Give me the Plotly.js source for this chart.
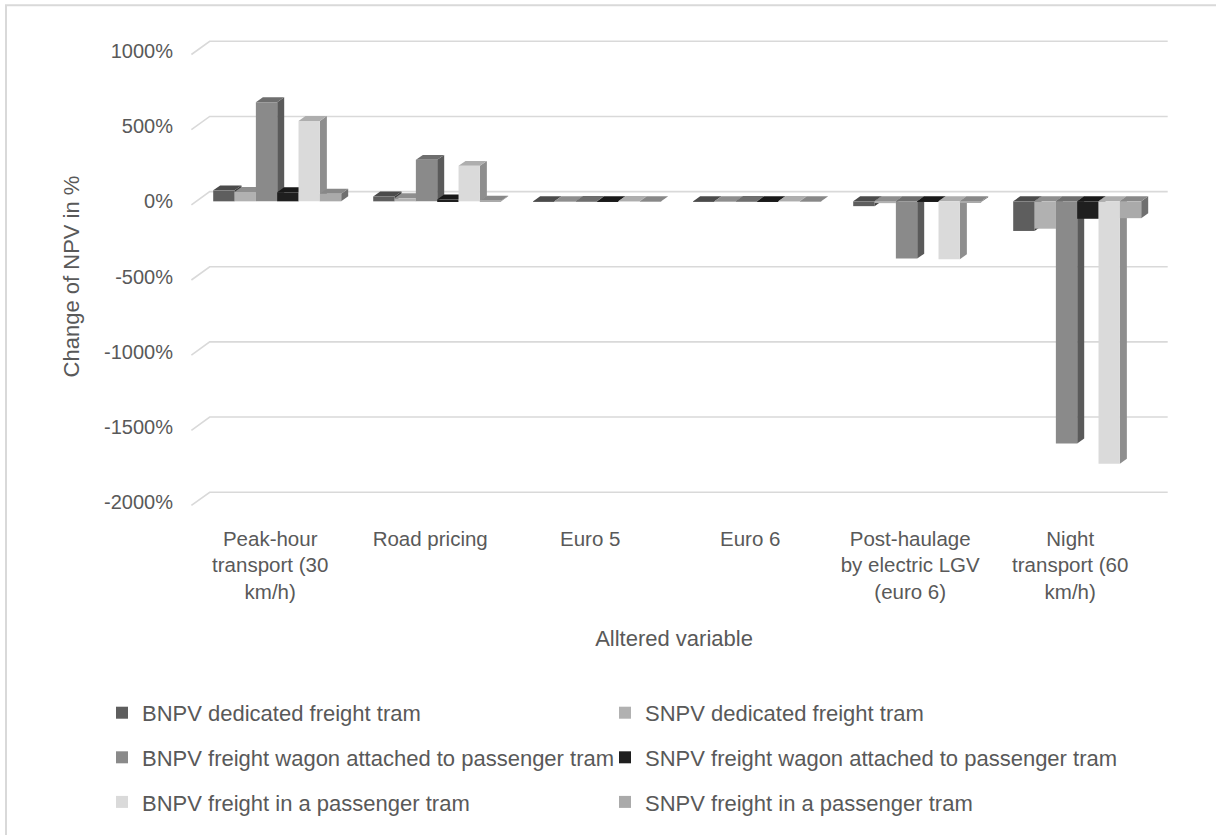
<!DOCTYPE html>
<html>
<head>
<meta charset="utf-8">
<script src="https://cdn.plot.ly/plotly-3.0.1.min.js"></script>
<style>
  html, body { margin: 0; padding: 0; background: #ffffff; }
  #chart { width: 1216px; height: 835px; }
</style>
</head>
<body>
<div id="chart"></div>
<script>
// Altered variables (categories) and their wrapped axis labels
const categories = ['Peak-hour transport (30 km/h)', 'Road pricing', 'Euro 5', 'Euro 6',
                    'Post-haulage by electric LGV (euro 6)', 'Night transport (60 km/h)'];
const categoryLabels = ['Peak-hour<br>transport (30<br>km/h)', 'Road pricing', 'Euro 5', 'Euro 6',
                        'Post-haulage<br>by electric LGV<br>(euro 6)', 'Night<br>transport (60<br>km/h)'];

// Change of NPV in % per scenario
const bnpvDedicated = [73, 32, 1, 1, -32, -197];
const snpvDedicated = [62, 20, 1, 1, -12, -182];
const bnpvWagon     = [660, 276, 2, 2, -381, -1611];
const snpvWagon     = [60, 12, 1, 1, -2, -116];
const bnpvPassenger = [535, 236, 2, 2, -385, -1745];
const snpvPassenger = [50, 4, 1, 1, -5, -112];

const seriesNames = ['BNPV dedicated freight tram', 'SNPV dedicated freight tram',
                     'BNPV freight wagon attached to passenger tram', 'SNPV freight wagon attached to passenger tram',
                     'BNPV freight in a passenger tram', 'SNPV freight in a passenger tram'];

const yTickValues = [-2000, -1500, -1000, -500, 0, 500, 1000];
const yTickLabels = ['-2000%', '-1500%', '-1000%', '-500%', '0%', '500%', '1000%'];

// ---- styling ----
const seriesValues = [bnpvDedicated, snpvDedicated, bnpvWagon, snpvWagon, bnpvPassenger, snpvPassenger];
const seriesColors = ['#5e5e5e', '#b1b1b1', '#8a8a8a', '#1f1f1f', '#dadada', '#aaaaaa'];
const textColor = '#595959';
const gridColor = '#d9d9d9';
const fontFamily = "'Liberation Sans', Arial, sans-serif";

const W = 1216, H = 835;
const margin = { l: 178, r: 46, t: 36, b: 315, pad: 0 };
const xRange = [-0.62, 5.58];
const yRange = [-2100, 1100];
const bargap = 0.2;

const plotW = W - margin.l - margin.r;
const plotH = H - margin.t - margin.b;
const pxPerX = plotW / (xRange[1] - xRange[0]);
const pxPerY = plotH / (yRange[1] - yRange[0]);
const dxUnits = p => p / pxPerX;          // pixel offset -> category units
const dyUnits = p => p / pxPerY;          // pixel offset -> value units
const paperX = p => (p - margin.l) / plotW;
const paperY = p => (H - margin.b - p) / plotH;

function shade(hex, f) {
  const n = parseInt(hex.slice(1), 16);
  const c = [(n >> 16) & 255, (n >> 8) & 255, n & 255].map(v => Math.round(v * f));
  return 'rgb(' + c.join(',') + ')';
}

// ---- bar traces (front faces) ----
const traces = seriesNames.map((name, i) => ({
  type: 'bar',
  name: name,
  x: categories,
  y: seriesValues[i],
  marker: { color: seriesColors[i], line: { width: 0 } },
  legend: i % 2 === 0 ? 'legend' : 'legend2',
  legendgroup: name,
  hovertemplate: '%{x}<br>%{y}%<extra>' + name + '</extra>'
}));

// ---- back wall gridlines with floor diagonals ----
const shapes = [];
const wallBackUp = dyUnits(9.8), wallFrontDown = dyUnits(3.5);
const xFrontLeft = -0.5 - dxUnits(5.8);
const xBackLeft = -0.5 + dxUnits(12.5);
const xBackRight = categories.length - 0.5 + dxUnits(10.5);
yTickValues.forEach(v => {
  shapes.push({
    type: 'path', xref: 'x', yref: 'y', layer: 'below',
    path: `M${xFrontLeft},${v - wallFrontDown}L${xBackLeft},${v + wallBackUp}L${xBackRight},${v + wallBackUp}`,
    line: { color: gridColor, width: 1.6 }
  });
});

// ---- depth faces of the columns (side faces first, then top faces) ----
const groupWidth = 1 - bargap;
const barW = groupWidth / seriesNames.length;
const depthX = dxUnits(7), depthY = dyUnits(5);
const sideFaces = [], topFaces = [];
seriesValues.forEach((vals, si) => {
  vals.forEach((v, ci) => {
    const L = ci - groupWidth / 2 + si * barW;
    const R = L + barW;
    const top = Math.max(v, 0), bot = Math.min(v, 0);
    sideFaces.push({
      type: 'path', xref: 'x', yref: 'y', layer: 'below',
      path: `M${R},${top}L${R + depthX},${top + depthY}L${R + depthX},${bot + depthY}L${R},${bot}Z`,
      fillcolor: shade(seriesColors[si], 0.65), line: { width: 0 }
    });
    topFaces.push({
      type: 'path', xref: 'x', yref: 'y', layer: 'below',
      path: `M${L},${top}L${R},${top}L${R + depthX},${top + depthY}L${L + depthX},${top + depthY}Z`,
      fillcolor: shade(seriesColors[si], 0.8), line: { width: 0 }
    });
  });
});
shapes.push(...sideFaces, ...topFaces);

// ---- chart area border ----
shapes.push({
  type: 'path', xref: 'paper', yref: 'paper', layer: 'below',
  path: `M${paperX(6)},${paperY(H + 10)}L${paperX(6)},${paperY(5)}L${paperX(W + 10)},${paperY(5)}`,
  line: { color: gridColor, width: 2 }
});

const legendCommon = {
  orientation: 'v', traceorder: 'grouped', tracegroupgap: 13,
  xanchor: 'left', yanchor: 'top',
  bgcolor: 'rgba(0,0,0,0)', borderwidth: 0,
  font: { family: fontFamily, size: 22, color: textColor },
  itemclick: false, itemdoubleclick: false
};

const layout = {
  width: W, height: H,
  margin: margin,
  paper_bgcolor: '#ffffff', plot_bgcolor: 'rgba(0,0,0,0)',
  font: { family: fontFamily, color: textColor },
  barmode: 'group', bargap: bargap, bargroupgap: 0,
  showlegend: true,
  xaxis: {
    type: 'category', range: xRange, automargin: false,
    tickmode: 'array', tickvals: categories, ticktext: categoryLabels,
    tickfont: { size: 20.5, color: textColor },
    ticks: '', ticklabelshift: -7, ticklabelstandoff: 7,
    showgrid: false, zeroline: false, showline: false,
    title: { text: 'Alltered variable', font: { size: 22, color: textColor }, standoff: 28 },
    fixedrange: true
  },
  yaxis: {
    range: yRange, automargin: false,
    tickmode: 'array', tickvals: yTickValues, ticktext: yTickLabels,
    tickfont: { size: 20, color: textColor },
    ticks: '', ticklabelstandoff: 4,
    showgrid: false, zeroline: false, showline: false,
    title: { text: 'Change of NPV in %', font: { size: 22, color: textColor }, standoff: 18 },
    fixedrange: true
  },
  legend: Object.assign({}, legendCommon, { x: paperX(102), y: paperY(696) }),
  legend2: Object.assign({}, legendCommon, { x: paperX(605), y: paperY(696) }),
  shapes: shapes
};

Plotly.newPlot('chart', traces, layout, { displayModeBar: false, staticPlot: false });
</script>
</body>
</html>
